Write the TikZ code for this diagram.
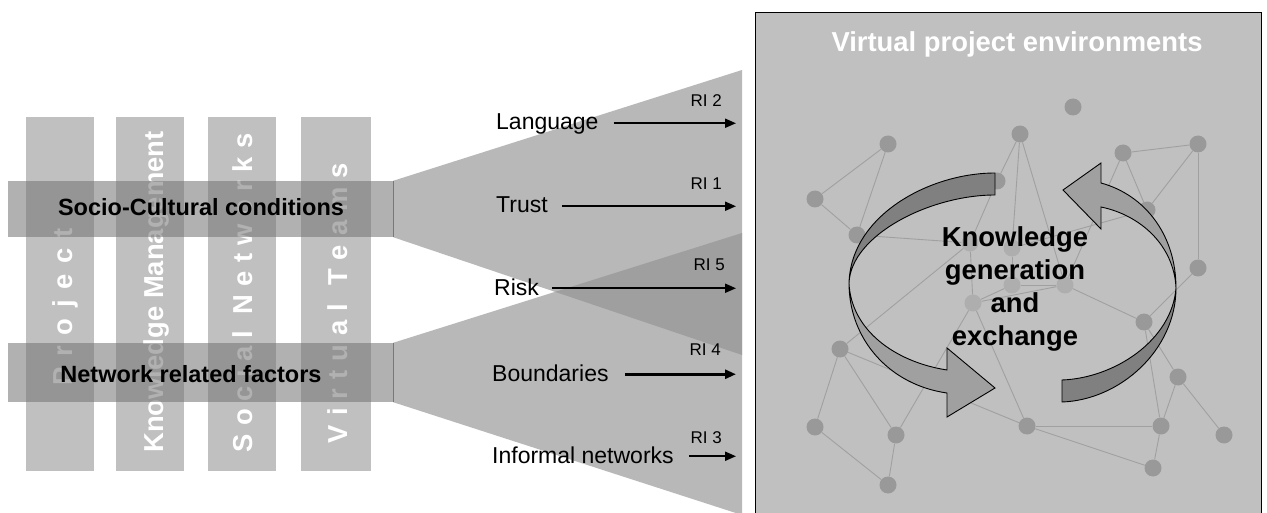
\documentclass[tikz,border=0pt]{standalone}
\usepackage{fontspec}
\setmainfont{Liberation Sans}
\usetikzlibrary{arrows.meta}
\definecolor{barfill}{RGB}{192,192,192}
\definecolor{bandfill}{RGB}{116,116,116}
\definecolor{fanfill}{RGB}{146,146,146}
\definecolor{boxfill}{RGB}{192,192,192}
\definecolor{netdot}{RGB}{153,153,153}
\definecolor{netdotlight}{RGB}{174,174,174}
\definecolor{netline}{RGB}{160,160,160}
\definecolor{ribbondark}{RGB}{128,128,128}
\definecolor{ribbonlight}{RGB}{160,160,160}
\definecolor{bandedge}{RGB}{120,120,120}

\begin{document}
\begin{tikzpicture}[x=1pt,y=-1pt,
  bar/.style={fill=barfill, draw=none, minimum width=68pt, minimum height=354pt, inner sep=0pt},
  bartext/.style={text=white, font=\bfseries\fontsize{27.4}{27.4}\selectfont, rotate=90, inner sep=0pt, anchor=base},
  band/.style={fill=bandfill, fill opacity=0.556, draw=none, minimum width=385pt, inner sep=0pt},
  bandtext/.style={font=\bfseries\fontsize{23.5}{23.5}\selectfont, inner sep=0pt, anchor=base},
  fan/.style={fill=fanfill, fill opacity=0.643},
  factor/.style={font=\fontsize{23}{23}\selectfont, inner sep=0pt, text height=16.5pt, text depth=3pt, anchor=base west},
  ritext/.style={font=\fontsize{17}{17}\selectfont, inner sep=0pt, anchor=base east},
  riarrow/.style={-{Triangle[length=11pt,width=9pt]}, line width=2pt},
  dot/.style={circle, fill=netdot, draw=none, minimum size=17pt, inner sep=0pt},
  dotlight/.style={dot, fill=netdotlight},
  netedge/.style={draw=netline, line width=0.9pt},
  ribbon/.style={draw=black, line width=0.9pt, line join=miter},
  title/.style={text=white, font=\bfseries\fontsize{27.4}{27.4}\selectfont, inner sep=0pt, anchor=base},
  centre/.style={font=\bfseries\fontsize{27.4}{32.7}\selectfont, align=center, inner sep=0pt}
]
\useasboundingbox (0,0) rectangle (1267,513);
\fill[white] (0,0) rectangle (1267,513);

% ---- four discipline columns ----
\node[bar] (barP) at (60,294) {};
\node[bar] (barK) at (150,294) {};
\node[bar] (barS) at (242,294) {};
\node[bar, minimum width=70pt] (barV) at (336,294) {};

\node[bartext] (txtP) at (72,307) {P\kern10.7pt r\kern10.7pt o\kern10.7pt j\kern10.7pt e\kern10.7pt c\kern10.7pt t};
\node[bartext] (txtK) at (163,292) {Knowledge Management};
\node[bartext] (txtS) at (252,293) {S\kern8.2pt o\kern8.2pt c\kern8.2pt i\kern8.2pt a\kern8.2pt l\kern16.4pt N\kern8.2pt e\kern8.2pt t\kern8.2pt w\kern8.2pt o\kern8.2pt r\kern8.2pt k\kern8.2pt s};
\node[bartext] (txtV) at (347,303) {V\kern9pt i\kern9pt r\kern9pt t\kern9pt u\kern9pt a\kern9pt l\kern18pt T\kern9pt e\kern9pt a\kern9pt m\kern9pt s};

% ---- horizontal condition bands ----
\node[band, minimum height=56pt] (socio) at (200.5,209) {};
\node[band, minimum height=59pt] (netw) at (200.5,372.5) {};
\node[bandtext] (sociolbl) at (201,216) {Socio-Cultural conditions};
\node[bandtext] (netwlbl) at (191,382) {Network related factors};

% ---- fans opening to the right ----
\fill[fan] (socio.north east) -- (742,70) -- (742,355) -- (socio.south east) -- cycle;
\fill[fan] (netw.north east) -- (742,233) -- (742,515) -- (netw.south east) -- cycle;
\draw[bandedge, line width=0.8pt] (socio.north east) -- (socio.south east);
\draw[bandedge, line width=0.8pt] (netw.north east) -- (netw.south east);

% ---- factors with their indicators ----
\coordinate (tipx) at (736,0);
\node[factor] (lang) at (496,130) {Language};
\node[factor] (trust) at (496,213) {Trust};
\node[factor] (risk) at (494,295) {Risk};
\node[factor] (bound) at (492,381) {Boundaries};
\node[factor] (infor) at (492,463) {Informal networks};

\draw[riarrow] ([xshift=15pt]lang.east) -- (lang.east -| tipx);
\draw[riarrow] ([xshift=14pt]trust.east) -- (trust.east -| tipx);
\draw[riarrow] ([xshift=13pt]risk.east) -- (risk.east -| tipx);
\draw[riarrow, line width=3pt] ([xshift=16pt]bound.east) -- (bound.east -| tipx);
\draw[riarrow] ([xshift=15pt]infor.east) -- (infor.east -| tipx);

\node[ritext] (ri2) at (722,107) {RI 2};
\node[ritext] (ri1) at (722,190) {RI 1};
\node[ritext] (ri5) at (725,271) {RI 5};
\node[ritext] (ri4) at (721,355) {RI 4};
\node[ritext] (ri3) at (722,443) {RI 3};

% ---- virtual project environment panel ----
\fill[boxfill] (755,13) rectangle (1261,513);
\draw[black, line width=1pt] (755,513) -- (755,13) -- (1261,13) -- (1261,513);

\foreach \n/\x/\y in {A/1073/107, B/1020/134, C/888/144, D/1123/153, E/1198/144,
    F/815/199, G/997/181, H/1147/210, I/857/235, L/1198/268, P/1144/322,
    Q/840/349, R/1178/377, S/815/427, T/896/435, U/1027/426, V/1161/426,
    W/1224/435, X/1153/468, Y/888/485}
  \node[dot] (n\n) at (\x,\y) {};
\foreach \n/\x/\y in {J/970/243, K/1012/248, M/1012/285, N/1065/285, O/973/303}
  \node[dotlight] (n\n) at (\x,\y) {};

\foreach \a/\b in {C/F, C/I, F/I, I/J, B/G, G/J, B/K, K/M, B/N, J/O, Q/J, Q/S,
    Q/T, Q/U, S/Y, T/Y, T/O, O/U, O/M, O/N, M/N, K/H, D/N, D/H, D/E, E/H, E/L,
    L/P, N/P, P/R, P/V, R/V, R/W, V/X, U/V, U/X}
  \draw[netedge] (n\a) -- (n\b);

% ---- circular ribbon arrows ----
\filldraw[ribbon, fill=ribbondark]
  (995,173) .. controls (930,173) and (851,215) .. (849,283)
  .. controls (851,235) and (930,195) .. (995,195) -- cycle;
\filldraw[ribbon, fill=ribbonlight]
  (849,283) .. controls (849,340) and (890,385) .. (947,393)
  -- (947,417) -- (995,388) -- (947,348) -- (947,370)
  .. controls (895,362) and (851,330) .. (849,283) -- cycle;

\filldraw[ribbon, fill=ribbonlight]
  (1176,288) .. controls (1176,235) and (1145,195) .. (1101,183)
  -- (1101,163) -- (1063,190) -- (1101,229) -- (1101,207)
  .. controls (1140,215) and (1174,245) .. (1176,288) -- cycle;
\filldraw[ribbon, fill=ribbondark]
  (1176,288) .. controls (1176,350) and (1120,400) .. (1062,402)
  -- (1062,380) .. controls (1115,378) and (1172,340) .. (1176,288) -- cycle;

\node[centre] (kge) at (1015,289) {Knowledge\\generation\\and\\exchange};
\node[title] (env) at (1017,52) {Virtual project environments};
\end{tikzpicture}
\end{document}
